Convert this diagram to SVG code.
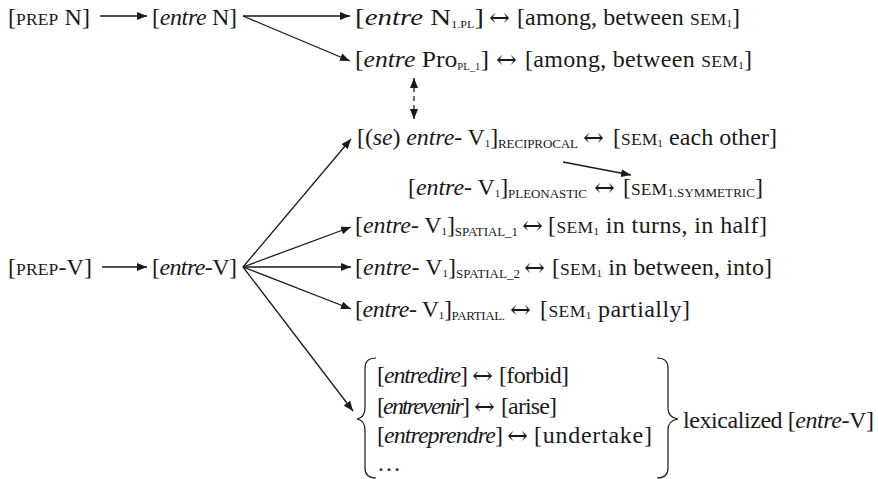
<svg xmlns="http://www.w3.org/2000/svg" width="878" height="479" viewBox="0 0 878 479">
<defs>
<marker id="ah" viewBox="0 0 10 8" refX="10" refY="4" markerWidth="10" markerHeight="8" markerUnits="userSpaceOnUse" orient="auto-start-reverse">
<path d="M0,0 L10,4 L0,8 Z" fill="#1a1a1a"/>
</marker>
<style>
.t{font-family:"Liberation Serif","DejaVu Serif",serif;font-size:24px;fill:#1a1a1a}
.i{font-style:italic}
.sc{font-size:17.5px}
.s13{font-size:13px}
.s11{font-size:11px}
.s9{font-size:10px}
.ar{font-family:"DejaVu Serif",serif;font-size:25px;fill:#1a1a1a}
.ln{stroke:#1a1a1a;stroke-width:1.3;fill:none}
.hd{marker-end:url(#ah)}
.br{stroke:#1a1a1a;stroke-width:1.2;fill:none}
</style>
</defs>

<g id="connectors">
<line class="ln hd" x1="100" y1="16" x2="147" y2="16"/>
<line class="ln hd" x1="243" y1="16" x2="350" y2="16"/>
<line class="ln hd" x1="243" y1="16" x2="350" y2="61"/>
<line class="ln" x1="414" y1="78" x2="414" y2="119" stroke-dasharray="5,4" marker-start="url(#ah)" marker-end="url(#ah)"/>
<line class="ln hd" x1="563" y1="162" x2="631" y2="175"/>
<line class="ln hd" x1="102" y1="267" x2="147" y2="267"/>
<line class="ln hd" x1="243" y1="267" x2="351" y2="139"/>
<line class="ln hd" x1="243" y1="267" x2="351" y2="227"/>
<line class="ln hd" x1="243" y1="267" x2="351" y2="267"/>
<line class="ln hd" x1="243" y1="267" x2="351" y2="309"/>
<line class="ln hd" x1="243" y1="267" x2="353" y2="411"/>
</g>

<g id="prepN">
<text class="t" x="8" y="25" textLength="82">[<tspan class="sc">PREP</tspan> N]</text>
</g>
<g id="entreN">
<text class="t" x="152" y="25" textLength="85">[<tspan class="i">entre</tspan> N]</text>
</g>
<g id="entreNpl">
<text class="t" x="355" y="25" textLength="129" lengthAdjust="spacingAndGlyphs">[<tspan class="i">entre</tspan> N<tspan class="s9" dy="3">1.PL</tspan><tspan dy="-3">]</tspan></text>
<text class="ar" x="489" y="26">↔</text>
<text class="t" x="517" y="25" textLength="223">[among, between <tspan class="sc">SEM</tspan><tspan class="s11" dy="2">1</tspan><tspan dy="-2">]</tspan></text>
</g>
<g id="entrePro">
<text class="t" x="355" y="67" textLength="134" lengthAdjust="spacingAndGlyphs">[<tspan class="i">entre</tspan> Pro<tspan class="s9" dy="3">PL_1</tspan><tspan dy="-3">]</tspan></text>
<text class="ar" x="496" y="68">↔</text>
<text class="t" x="525" y="67" textLength="227">[among, between <tspan class="sc">SEM</tspan><tspan class="s11" dy="2">1</tspan><tspan dy="-2">]</tspan></text>
</g>
<g id="reciprocal">
<text class="t" x="357" y="145" textLength="221">[(<tspan class="i">se</tspan>) <tspan class="i">entre</tspan>- V<tspan class="s11" dy="2">1</tspan><tspan dy="-2">]</tspan><tspan class="s13" dy="3">RECIPROCAL</tspan></text>
<text class="ar" x="583" y="146">↔</text>
<text class="t" x="613" y="145" textLength="164">[<tspan class="sc">SEM</tspan><tspan class="s11" dy="2">1</tspan><tspan dy="-2"> each other]</tspan></text>
</g>
<g id="pleonastic">
<text class="t" x="408" y="195" textLength="179">[<tspan class="i">entre</tspan>- V<tspan class="s11" dy="2">1</tspan><tspan dy="-2">]</tspan><tspan class="s13" dy="3">PLEONASTIC</tspan></text>
<text class="ar" x="594" y="196">↔</text>
<text class="t" x="623" y="195" textLength="140">[<tspan class="sc">SEM</tspan><tspan class="s13" dy="2">1.SYMMETRIC</tspan><tspan dy="-2">]</tspan></text>
</g>
<g id="prepV">
<text class="t" x="8" y="275" textLength="84">[<tspan class="sc">PREP</tspan>-V]</text>
</g>
<g id="entreV">
<text class="t" x="152" y="275" textLength="85">[<tspan class="i">entre</tspan>-V]</text>
</g>
<g id="spatial1">
<text class="t" x="355" y="233" textLength="163">[<tspan class="i">entre</tspan>- V<tspan class="s11" dy="2">1</tspan><tspan dy="-2">]</tspan><tspan class="s13" dy="3">SPATIAL_1</tspan></text>
<text class="ar" x="522" y="234">↔</text>
<text class="t" x="548" y="233" textLength="219">[<tspan class="sc">SEM</tspan><tspan class="s11" dy="2">1</tspan><tspan dy="-2"> in turns, in half]</tspan></text>
</g>
<g id="spatial2">
<text class="t" x="355" y="275" textLength="165">[<tspan class="i">entre</tspan>- V<tspan class="s11" dy="2">1</tspan><tspan dy="-2">]</tspan><tspan class="s13" dy="3">SPATIAL_2</tspan></text>
<text class="ar" x="524" y="276">↔</text>
<text class="t" x="552" y="275" textLength="220">[<tspan class="sc">SEM</tspan><tspan class="s11" dy="2">1</tspan><tspan dy="-2"> in between, into]</tspan></text>
</g>
<g id="partial">
<text class="t" x="355" y="317" textLength="150">[<tspan class="i">entre</tspan>- V<tspan class="s11" dy="2">1</tspan><tspan dy="-2">]</tspan><tspan class="s13" dy="3">PARTIAL.</tspan></text>
<text class="ar" x="510" y="318">↔</text>
<text class="t" x="540" y="317" textLength="150">[<tspan class="sc">SEM</tspan><tspan class="s11" dy="2">1</tspan><tspan dy="-2"> partially]</tspan></text>
</g>
<g id="lexicalized">
<path class="br" d="M376,358 C369,358 365,361 365,368 L365,408 C365,414 362,418 357,419 C362,420 365,424 365,430 L365,468 C365,475 369,478 376,478"/>
<text class="t" x="377" y="383" textLength="91">[<tspan class="i">entredire</tspan>]</text>
<text class="ar" x="472" y="384">↔</text>
<text class="t" x="499" y="383" textLength="70">[forbid]</text>
<text class="t" x="377" y="414" textLength="93">[<tspan class="i">entrevenir</tspan>]</text>
<text class="ar" x="474" y="415">↔</text>
<text class="t" x="501" y="414" textLength="56">[arise]</text>
<text class="t" x="377" y="443" textLength="126">[<tspan class="i">entreprendre</tspan>]</text>
<text class="ar" x="507" y="444">↔</text>
<text class="t" x="534" y="443" textLength="118">[undertake]</text>
<text class="t" x="377" y="471">…</text>
<path class="br" d="M657,358 C664,358 668,361 668,368 L668,408 C668,414 671,418 678,419 C671,420 668,424 668,430 L668,468 C668,475 664,478 657,478"/>
<text class="t" x="683" y="428" textLength="191">lexicalized [<tspan class="i">entre</tspan>-V]</text>
</g>
</svg>
